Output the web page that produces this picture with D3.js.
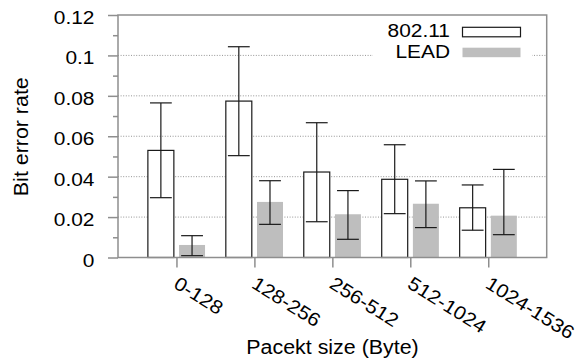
<!DOCTYPE html>
<html>
<head>
<meta charset="utf-8">
<script src="https://cdn.jsdelivr.net/npm/d3@7"></script>
<style>
  html, body { margin: 0; padding: 0; background: #fff; }
  svg { display: block; font-family: "Liberation Sans", Arial, Helvetica, sans-serif; }
</style>
</head>
<body>
<svg id="chart" width="580" height="360"></svg>
<script>
const categories = ["0-128", "128-256", "256-512", "512-1024", "1024-1536"];
const wifiValues = [0.0530, 0.0774, 0.0423, 0.0387, 0.0246];
const wifiLow    = [0.0296, 0.0504, 0.0177, 0.0217, 0.0135];
const wifiHigh   = [0.0765, 0.1043, 0.0667, 0.0558, 0.0359];
const leadValues = [0.0062, 0.0275, 0.0214, 0.0266, 0.0207];
const leadLow    = [0.0009, 0.0164, 0.0090, 0.0148, 0.0113];
const leadHigh   = [0.0108, 0.0380, 0.0331, 0.0379, 0.0436];
const seriesNames = ["802.11", "LEAD"];
const yMajorTicks = [0, 0.02, 0.04, 0.06, 0.08, 0.1, 0.12];
const yMinorTicks = [0.01, 0.03, 0.05, 0.07, 0.09, 0.11];
const yTitle = "Bit error rate";
const xTitle = "Pacekt size (Byte)";

const svg = d3.select("#chart");
const L = 118, R = 546.7, T = 15, B = 257.5;

const x = d3.scaleLinear().domain([-0.75, categories.length - 0.25]).range([L, R]);
const y = d3.scaleLinear().domain([0, 0.12]).range([B, T]);

const frameColor = "#8e8e8e";
const markColor = "#1a1a1a";
const tickFont = 19, tickStretch = 1.1;

// grid
svg.append("g").selectAll("line").data(yMajorTicks.filter(d => d > 0 && d < 0.12)).join("line")
  .attr("x1", L).attr("x2", R)
  .attr("y1", d => y(d)).attr("y2", d => y(d))
  .attr("stroke", "#7a7a7a").attr("stroke-width", 0.8)
  .attr("stroke-dasharray", "1,1.6");

// legend background (covers grid)
svg.append("rect").attr("x", 373).attr("y", 17).attr("width", 159).attr("height", 48).attr("fill", "#fff");

const offset = 0.2, halfW = 1 / 6, capHalf = 0.14;

const series = [
  { name: seriesNames[0], vals: wifiValues, lo: wifiLow, hi: wifiHigh, dx: -offset, fill: "#fff", stroke: markColor },
  { name: seriesNames[1], vals: leadValues, lo: leadLow, hi: leadHigh, dx: offset, fill: "#bebebe", stroke: "none" }
];

series.forEach(s => {
  const g = svg.append("g");
  g.selectAll("rect").data(s.vals).join("rect")
    .attr("x", (d, i) => x(i + s.dx - halfW))
    .attr("width", (d, i) => x(i + s.dx + halfW) - x(i + s.dx - halfW))
    .attr("y", d => y(d))
    .attr("height", d => y(0) - y(d))
    .attr("fill", s.fill)
    .attr("stroke", s.stroke)
    .attr("stroke-width", 1.2);
});

series.forEach(s => {
  const g = svg.append("g").attr("stroke", markColor).attr("stroke-width", 1.2);
  s.vals.forEach((d, i) => {
    const cx = x(i + s.dx);
    const w = x(i + s.dx + capHalf) - cx;
    g.append("line").attr("x1", cx).attr("x2", cx).attr("y1", y(s.lo[i])).attr("y2", y(s.hi[i]));
    g.append("line").attr("x1", cx - w).attr("x2", cx + w).attr("y1", y(s.lo[i])).attr("y2", y(s.lo[i]));
    g.append("line").attr("x1", cx - w).attr("x2", cx + w).attr("y1", y(s.hi[i])).attr("y2", y(s.hi[i]));
  });
});

// frame
svg.append("rect").attr("x", L).attr("y", T).attr("width", R - L).attr("height", B - T)
  .attr("fill", "none").attr("stroke", frameColor).attr("stroke-width", 1.5);

// y axis major
const yAxis = svg.append("g").attr("transform", `translate(${L},0)`)
  .call(d3.axisLeft(y).tickValues(yMajorTicks).tickSize(10).tickFormat(d => String(+d.toFixed(2))));
yAxis.select(".domain").remove();
yAxis.selectAll(".tick line").attr("stroke", frameColor).attr("stroke-width", 1.5);
yAxis.selectAll(".tick text")
  .attr("x", 0).attr("dy", null)
  .attr("transform", `translate(-23.5,8.5) scale(${tickStretch},1)`)
  .attr("text-anchor", "end")
  .attr("font-size", tickFont).attr("font-family", null).attr("fill", "#000");

// y axis minor
const yMinor = svg.append("g").attr("transform", `translate(${L},0)`)
  .call(d3.axisLeft(y).tickValues(yMinorTicks).tickSize(5).tickFormat(""));
yMinor.select(".domain").remove();
yMinor.selectAll(".tick line").attr("stroke", frameColor).attr("stroke-width", 1.5);

// x axis
const xAxis = svg.append("g").attr("transform", `translate(0,${B})`)
  .call(d3.axisBottom(x).tickValues(d3.range(categories.length)).tickSize(10).tickFormat(i => categories[i]));
xAxis.select(".domain").remove();
xAxis.selectAll(".tick line").attr("stroke", frameColor).attr("stroke-width", 1.5);
xAxis.selectAll(".tick text")
  .attr("x", 0).attr("y", 0).attr("dy", null)
  .attr("transform", `translate(-4.5,29.5) rotate(32) scale(${tickStretch},1)`)
  .attr("text-anchor", "start")
  .attr("font-size", tickFont).attr("font-family", null).attr("fill", "#000");

// titles
svg.append("text").text(yTitle)
  .attr("transform", "translate(28,136.7) rotate(-90) scale(1.07,1)")
  .attr("text-anchor", "middle").attr("font-size", 20);
svg.append("text").text(xTitle)
  .attr("transform", "translate(332.5,354.3) scale(1.07,1)")
  .attr("text-anchor", "middle").attr("font-size", 20);

// legend
const legendY = [37.3, 57.7];
series.forEach((s, k) => {
  svg.append("text").text(s.name)
    .attr("transform", `translate(450,${legendY[k]}) scale(${tickStretch},1)`)
    .attr("text-anchor", "end").attr("font-size", tickFont);
  svg.append("rect")
    .attr("x", 462.5).attr("y", legendY[k] - 10).attr("width", 58).attr("height", 9.5)
    .attr("fill", s.fill).attr("stroke", s.stroke).attr("stroke-width", 1.2);
});
</script>
</body>
</html>
